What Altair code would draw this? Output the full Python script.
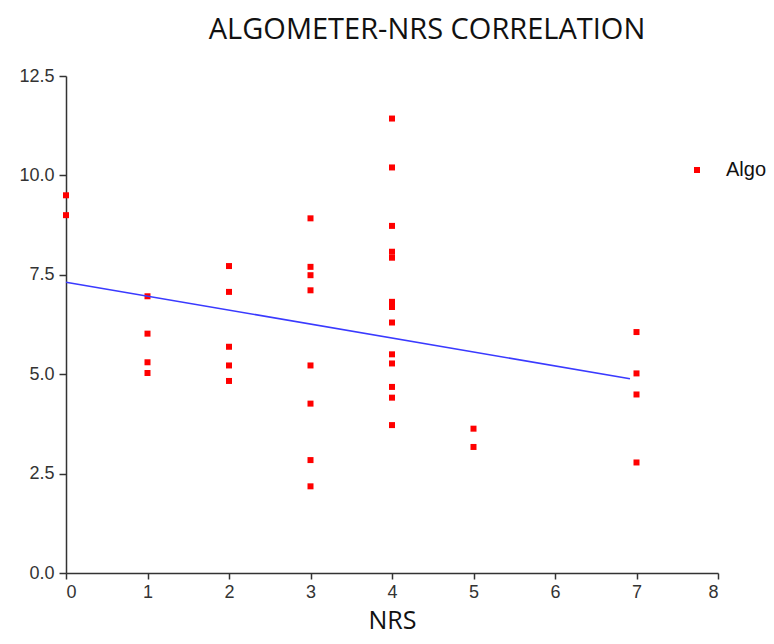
import altair as alt
import pandas as pd

# NRS category for each measurement and the corresponding algometer value
nrs = [0, 0,
       1, 1, 1, 1,
       2, 2, 2, 2, 2,
       3, 3, 3, 3, 3, 3, 3, 3,
       4, 4, 4, 4, 4, 4, 4, 4, 4, 4, 4, 4, 4,
       5, 5,
       7, 7, 7, 7]
algo = [9.50, 9.00,
        6.96, 6.02, 5.30, 5.03,
        7.72, 7.07, 5.69, 5.22, 4.83,
        8.92, 7.70, 7.49, 7.11, 5.22, 4.26, 2.84, 2.18,
        11.43, 10.20, 8.73, 8.08, 7.93, 6.82, 6.69, 6.30, 5.50, 5.27, 4.68, 4.41, 3.72,
        3.63, 3.17,
        6.06, 5.02, 4.49, 2.78]
series = ["Algo"] * len(nrs)

x_ticks = [0, 1, 2, 3, 4, 5, 6, 7, 8]
y_ticks = [0.0, 2.5, 5.0, 7.5, 10.0, 12.5]

df = pd.DataFrame({"NRS": nrs, "Algo": algo, "series": series})

label_font = "Liberation Sans"
axis_color = "#333333"

x_enc = alt.X("NRS:Q", scale=alt.Scale(domain=[0, 8], nice=False, zero=True),
              axis=alt.Axis(values=x_ticks, format="d", title="NRS",
                            titleFont="Open Sans", titleFontSize=25, titleFontWeight="normal",
                            titleColor="#111111", titlePadding=7,
                            labelFont=label_font, labelFontSize=18, labelColor=axis_color,
                            domainColor=axis_color, domainWidth=1.5,
                            tickColor=axis_color, tickWidth=1.5, tickSize=6,
                            grid=False, labelPadding=4))
y_enc = alt.Y("Algo:Q", scale=alt.Scale(domain=[0, 12.5], nice=False),
              axis=alt.Axis(values=y_ticks, format=".1f", title=None,
                            labelFont=label_font, labelFontSize=18, labelColor=axis_color,
                            domainColor=axis_color, domainWidth=1.5,
                            tickColor=axis_color, tickWidth=1.5, tickSize=7,
                            grid=False, labelPadding=5))

points = alt.Chart(df).mark_point(shape="square", filled=True, size=36, opacity=1).encode(
    x=x_enc,
    y=y_enc,
    color=alt.Color("series:N", scale=alt.Scale(domain=["Algo"], range=["#ff0000"]),
                    legend=alt.Legend(title=None, orient="none", legendX=621, legendY=84,
                                      labelFont=label_font, labelFontSize=20,
                                      labelColor="#111111", labelOffset=19,
                                      symbolSize=36, symbolType="square", padding=0)),
)

line = alt.Chart(df).transform_regression("NRS", "Algo", extent=[0, 6.92]).mark_line(
    color="#3a3aff", strokeWidth=1.6
).encode(x="NRS:Q", y="Algo:Q")

chart = alt.layer(points, line).properties(
    width=652, height=497,
    title=alt.TitleParams("ALGOMETER-NRS CORRELATION", font="Open Sans", fontSize=29,
                          fontWeight="normal", color="#111111", anchor="middle", dx=35,
                          offset=22),
    autosize=alt.AutoSizeParams(type="none"),
    padding={"left": 58, "top": 68, "right": 48, "bottom": 63},
).configure_view(stroke=None)

chart.save("out.html", embed_options={"renderer": "svg", "actions": False})
